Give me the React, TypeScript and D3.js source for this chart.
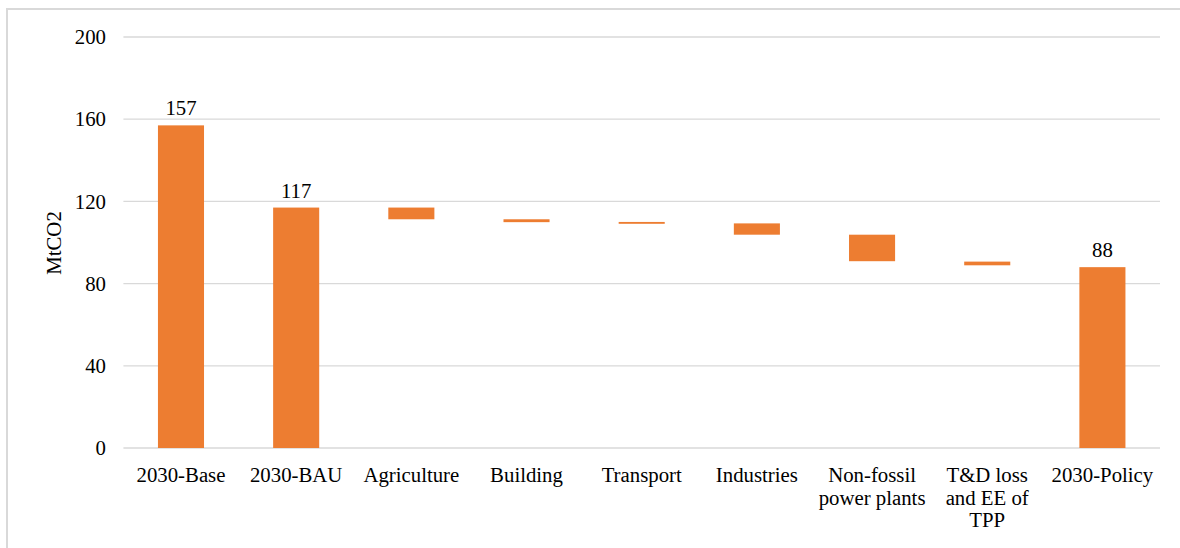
import React from "react";
import * as d3 from "d3";

const categories: string[] = [
  "2030-Base",
  "2030-BAU",
  "Agriculture",
  "Building",
  "Transport",
  "Industries",
  "Non-fossil\npower plants",
  "T&D loss\nand EE of\nTPP",
  "2030-Policy",
];

// floating (waterfall) bars: start and end values, MtCO2
const barStart: number[] = [0, 0, 111.3, 109.9, 109.1, 103.8, 90.9, 88.9, 0];
const barEnd: number[] = [157, 117, 117, 111.3, 110.0, 109.3, 103.8, 90.7, 88];

// data labels shown on total bars only
const dataLabels: (string | null)[] = ["157", "117", null, null, null, null, null, null, "88"];

const yTicks: number[] = [0, 40, 80, 120, 160, 200];
const yTitle = "MtCO2";

const W = 1180;
const H = 548;
const plotLeft = 123.4;
const plotRight = 1160;
const plotTop = 37;
const plotBottom = 448;
const FONT = "Liberation Serif, Times New Roman, DejaVu Serif, serif";
const FS = 20.8;
const ORANGE = "#ED7D31";
const GRID = "#d9d9d9";

export default function App() {
  const x = d3
    .scaleBand<string>()
    .domain(categories)
    .range([plotLeft, plotRight])
    .paddingInner(0.6)
    .paddingOuter(0.3);
  const y = d3.scaleLinear().domain([0, 200]).range([plotBottom, plotTop]);

  return (
    <svg
      width={W}
      height={H}
      style={{ position: "absolute", left: 0, top: 0, background: "#fff", fontFamily: FONT }}
    >
      <rect x={0} y={0} width={W} height={H} fill="#fff" />
      {/* outer frame */}
      <path d={`M7,${H} V9 H${W}`} fill="none" stroke={GRID} strokeWidth={2} />

      {/* gridlines */}
      {yTicks.map((t) => (
        <line
          key={t}
          x1={plotLeft}
          x2={plotRight}
          y1={y(t)}
          y2={y(t)}
          stroke={GRID}
          strokeWidth={1.3}
        />
      ))}

      {/* y tick labels */}
      {yTicks.map((t) => (
        <text
          key={"l" + t}
          x={106}
          y={y(t)}
          dy="0.35em"
          textAnchor="end"
          fontSize={FS}
          fill="#000"
          style={{ fontFamily: FONT }}
        >
          {t}
        </text>
      ))}

      {/* y title */}
      <text
        transform={`translate(61,243) rotate(-90)`}
        textAnchor="middle"
        fontSize={FS}
        fill="#000"
        style={{ fontFamily: FONT }}
      >
        {yTitle}
      </text>

      {/* bars */}
      {categories.map((c, i) => {
        const lo = Math.min(barStart[i], barEnd[i]);
        const hi = Math.max(barStart[i], barEnd[i]);
        return (
          <rect
            key={c}
            x={x(c)}
            y={y(hi)}
            width={x.bandwidth()}
            height={y(lo) - y(hi)}
            fill={ORANGE}
          />
        );
      })}

      {/* data labels */}
      {categories.map((c, i) =>
        dataLabels[i] ? (
          <text
            key={"d" + c}
            x={(x(c) as number) + x.bandwidth() / 2}
            y={y(barEnd[i]) - 10}
            textAnchor="middle"
            fontSize={FS}
            fill="#000"
            style={{ fontFamily: FONT }}
          >
            {dataLabels[i]}
          </text>
        ) : null
      )}

      {/* category labels */}
      {categories.map((c) => {
        const lines = c.split("\n");
        const cx = (x(c) as number) + x.bandwidth() / 2;
        return (
          <text
            key={"c" + c}
            x={cx}
            y={482}
            textAnchor="middle"
            fontSize={FS}
            fill="#000"
            style={{ fontFamily: FONT }}
          >
            {lines.map((ln, j) => (
              <tspan key={j} x={cx} dy={j === 0 ? 0 : 22.5}>
                {ln}
              </tspan>
            ))}
          </text>
        );
      })}
    </svg>
  );
}
